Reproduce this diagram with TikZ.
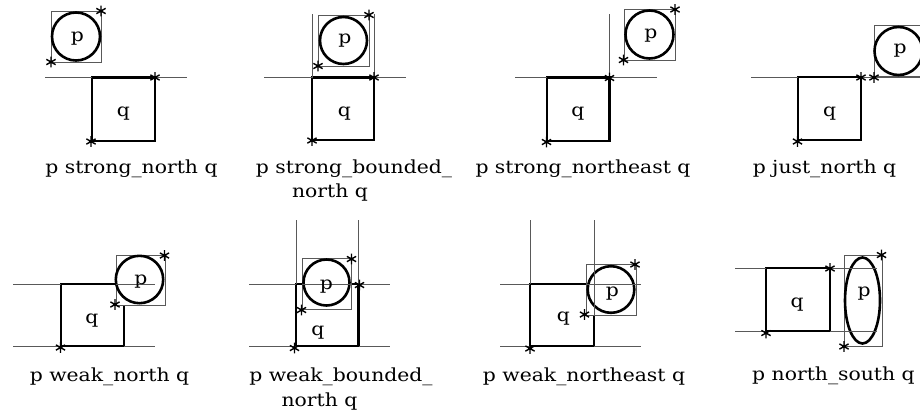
\documentclass[tikz,border=0pt]{standalone}
\usepackage{fontspec}
\setmainfont{DejaVu Serif}[FakeStretch=1.13]
\usetikzlibrary{shapes.geometric}
\tikzset{
  thinln/.style={line width=0.8pt, draw=black!65},
  qsq/.style={draw=black, line width=2.7pt, line join=miter},
  pbx/.style={draw=black!65, line width=0.8pt, fill=white},
  pcirc/.style={draw=black, line width=2.6pt},
  lbl/.style={font=\fontsize{18}{21}\selectfont, inner sep=0pt, anchor=base},
  ast/.pic={\draw[line width=1.4pt, black] (0,-5.3)--(0,5.3) (-4.6,-2.65)--(4.6,2.65) (-4.6,2.65)--(4.6,-2.65);}
}
\begin{document}
\begin{tikzpicture}[x=1pt,y=-1pt]
\useasboundingbox (0,0) rectangle (920,416);
% ---------- panel 1: strong_north
\draw[qsq] (92,77.5) rectangle (155,141);
\draw[pbx] (51,11) rectangle (101,62);
\node[pcirc, circle, minimum size=48pt, inner sep=0pt] (c1) at (76,36.5) {};
\draw[thinln] (45,77.5)--(92,77.5) (155,77.5)--(187,77.5);
\node[lbl] (p1) at (77.5,41.5) {p};
\node[lbl] (q1) at (123.5,116.5) {q};
\pic at (101,11) {ast}; \pic at (51,62) {ast}; \pic at (155,77.5) {ast}; \pic at (91,141.5) {ast};
\node[lbl] (t1) at (131.5,173.5) {p strong\_north q};
% ---------- panel 2: strong_bounded_north
\draw[qsq] (312,77.5) rectangle (374,140);
\draw[pbx] (318,15) rectangle (369,66);
\node[pcirc, circle, minimum size=47pt, inner sep=0pt] (c2) at (343.5,40.5) {};
\draw[thinln] (312,14)--(312,77.5) (374,14)--(374,77.5) (264,77.5)--(312,77.5) (374,77.5)--(406,77.5);
\node[lbl] (p2) at (345,43) {p};
\node[lbl] (q2) at (344.5,116) {q};
\pic at (369,15) {ast}; \pic at (318,66) {ast}; \pic at (374,77.5) {ast}; \pic at (312,140.5) {ast};
\node[lbl] (t2a) at (354,173.5) {p strong\_bounded\_};
\node[lbl] (t2b) at (330,197.5) {north q};
% ---------- panel 3: strong_northeast
\draw[qsq] (547,77.5) rectangle (609.5,141);
\draw[pbx] (624,9) rectangle (675,60);
\node[pcirc, circle, minimum size=48pt, inner sep=0pt] (c3) at (649.5,34.5) {};
\draw[thinln] (609.5,14)--(609.5,77.5) (515,77.5)--(547,77.5) (609.5,77.5)--(657,77.5);
\node[lbl] (p3) at (651,38) {p};
\node[lbl] (q3) at (578,116.5) {q};
\pic at (675,9.5) {ast}; \pic at (623.5,60) {ast}; \pic at (609.5,78) {ast}; \pic at (546.5,142) {ast};
\node[lbl] (t3) at (583,173.5) {p strong\_northeast q};
% ---------- panel 4: just_north
\draw[qsq] (798,77) rectangle (861,140);
\draw[pbx] (874,25.5) rectangle (924,76.5);
\node[pcirc, circle, minimum size=48pt, inner sep=0pt] (c4) at (898.5,51) {};
\draw[thinln] (751,77)--(798,77) (861,77)--(920,77);
\node[lbl] (p4) at (900,53) {p};
\node[lbl] (q4) at (829.5,116) {q};
\pic at (861,77.5) {ast}; \pic at (874,77.5) {ast}; \pic at (797.5,141.5) {ast};
\node[lbl] (t4) at (824.5,173.5) {p just\_north q};
% ---------- panel 5: weak_north
\draw[qsq] (61,284) rectangle (124,346);
\draw[pbx] (116,255) rectangle (165,305);
\node[pcirc, circle, minimum size=47.4pt, inner sep=0pt] (c5) at (139.5,279.5) {};
\draw[thinln] (13,284)--(61,284) (116,284)--(155,284) (13,346)--(61,346) (124,346)--(155,346);
\node[lbl] (p5) at (141,284.5) {p};
\node[lbl] (q5) at (92,323.5) {q};
\pic at (164.5,255.5) {ast}; \pic at (115,304.5) {ast}; \pic at (60.5,347.5) {ast};
\node[lbl] (t5) at (109.5,381.5) {p weak\_north q};
% ---------- panel 6: weak_bounded_north
\draw[qsq] (296,284) rectangle (358.5,346);
\draw[pbx] (302,258) rectangle (351,309);
\node[pcirc, circle, minimum size=46pt, inner sep=0pt] (c6) at (326.5,282.5) {};
\draw[thinln] (296,220)--(296,284) (358.5,220)--(358.5,284)
  (249,284)--(296,284) (302,284)--(351,284) (358.5,284)--(390,284)
  (249,346)--(296,346) (358.5,346)--(390,346);
\node[lbl] (p6) at (326.5,289) {p};
\node[lbl] (q6) at (318,335.5) {q};
\pic at (351.5,259) {ast}; \pic at (359.5,285) {ast}; \pic at (301.5,310) {ast}; \pic at (294.5,348) {ast};
\node[lbl] (t6a) at (341,381.5) {p weak\_bounded\_};
\node[lbl] (t6b) at (319.5,406) {north q};
% ---------- panel 7: weak_northeast
\draw[qsq] (530,284) rectangle (594,346);
\draw[pbx] (586,264) rectangle (636,315);
\node[pcirc, circle, minimum size=46.6pt, inner sep=0pt] (c7) at (611,289.5) {};
\draw[thinln] (530,220)--(530,284) (594,220)--(594,315)
  (500,284)--(530,284) (586,284)--(641,284)
  (500,346)--(530,346) (594,346)--(641,346);
\node[lbl] (p7) at (612.5,296.5) {p};
\node[lbl] (q7) at (563.5,321.5) {q};
\pic at (635,264.5) {ast}; \pic at (584.5,314.5) {ast}; \pic at (530,348.5) {ast};
\node[lbl] (t7) at (584,381.5) {p weak\_northeast q};
% ---------- panel 8: north_south
\draw[qsq] (766,268) rectangle (830,331);
\draw[pbx] (844,255) rectangle (882,346);
\node[pcirc, ellipse, minimum width=35pt, minimum height=86pt, inner sep=0pt] (c8) at (862.5,300.5) {};
\draw[thinln] (735,268)--(766,268) (830,268)--(877,268) (735,331)--(766,331) (830,331)--(877,331);
\node[lbl] (p8) at (864,296) {p};
\node[lbl] (q8) at (797,307.5) {q};
\pic at (881.5,255) {ast}; \pic at (830,268.5) {ast}; \pic at (844,346.5) {ast}; \pic at (766,333) {ast};
\node[lbl] (t8) at (833.5,380) {p north\_south q};
\end{tikzpicture}
\end{document}
